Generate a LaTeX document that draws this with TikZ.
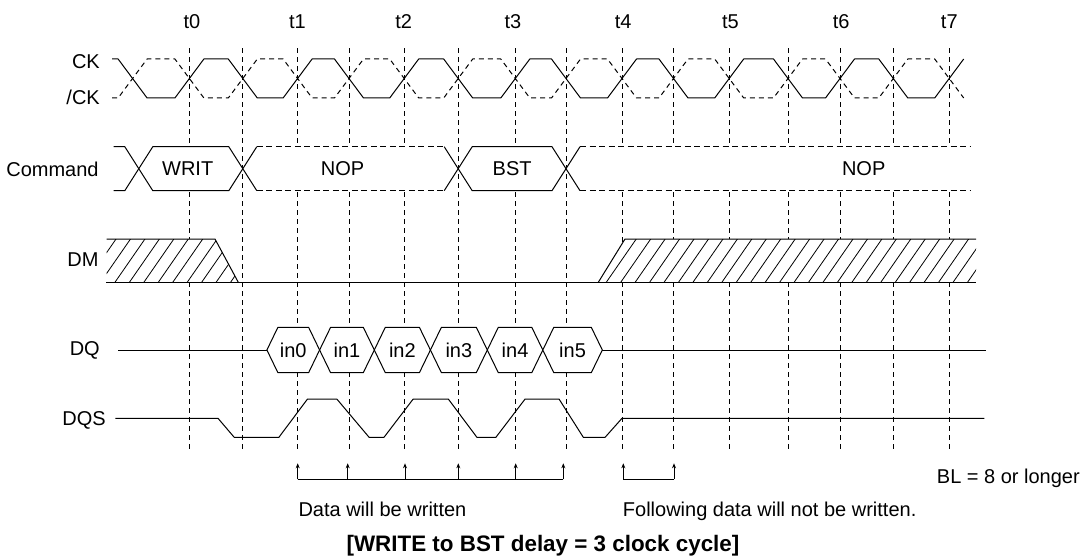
\documentclass[tikz,border=0pt]{standalone}
\usepackage{fontspec}
\setmainfont{Liberation Sans}
\usetikzlibrary{arrows.meta}

\newcommand{\gridTopY}{48.3}
\newcommand{\gridBotY}{449}
\newcommand{\ckHighY}{59}
\newcommand{\ckLowY}{98}
\newcommand{\ckHalfW}{14.5}
\newcommand{\cmdTopY}{146.7}
\newcommand{\cmdBotY}{190.7}
\newcommand{\cmdMidY}{168.7}
\newcommand{\cmdHalfW}{14}
\newcommand{\dmTopY}{239}
\newcommand{\dmBotY}{282.3}
\newcommand{\dqTopY}{327.3}
\newcommand{\dqBotY}{372.7}
\newcommand{\dqMidY}{350}
\newcommand{\dqHalfW}{11}
\newcommand{\dqsHighY}{399}
\newcommand{\dqsLowY}{437.3}
\newcommand{\dqsMidY}{418.3}
\newcommand{\arrowTipY}{463.3}
\newcommand{\arrowBaseY}{479.3}

\tikzset{
  wave/.style={line width=1pt, black, line join=round},
  gridline/.style={line width=0.8pt, dash pattern=on 5pt off 4pt},
  busdash/.style={line width=1pt, dash pattern=on 6pt off 3.5pt},
  hatchline/.style={line width=0.8pt},
  marker/.style={line width=0.8pt, -{Stealth[length=5pt,width=4pt]}},
  siglabel/.style={anchor=base east},
}

\begin{document}
\begin{tikzpicture}[x=1pt,y=-1pt,every node/.style={inner sep=0pt},font=\fontsize{20}{24}\selectfont]
\useasboundingbox (0,0) rectangle (1083,556);

% Time labels
\foreach \tx/\tn in {192/0,297.5/1,403.6/2,513/3,623.1/4,730.4/5,841.2/6,949.3/7}
  \node[anchor=base] (t\tn) at (\tx,28.3) {t\tn};

% Dashed grid at every crossing
\foreach \gx in {189.4,242.8,297.6,349,404.2,458.2,515.3,566,622,673.5,729.2,788,840,893.3,949.2}
  \draw[gridline] (\gx,\gridTopY) -- (\gx,\gridBotY);

% Signal names
\node[siglabel] (ck) at (100,68.3) {CK};
\node[siglabel] (ckbar) at (100,105) {/CK};
\node[siglabel] (cmd) at (98.8,176.7) {Command};
\node[siglabel] (dm) at (98.8,266.7) {DM};
\node[siglabel] (dq) at (100,355) {DQ};
\node[siglabel] (dqs) at (106,425.5) {DQS};

% CK and /CK
\draw[wave] (112,\ckHighY)
  \foreach \fa/\ri in {132.6/189.4,242.8/297.6,349/404.2,458.2/515.3,566/622,673.5/729.2,788/840,893.3/949.2}
  { -- ({\fa-\ckHalfW},\ckHighY) -- ({\fa+\ckHalfW},\ckLowY) -- ({\ri-\ckHalfW},\ckLowY) -- ({\ri+\ckHalfW},\ckHighY) };
\draw[wave, gridline, line width=1pt] (112,\ckLowY)
  \foreach \fa/\ri in {132.6/189.4,242.8/297.6,349/404.2,458.2/515.3,566/622,673.5/729.2,788/840,893.3/949.2}
  { -- ({\fa-\ckHalfW},\ckLowY) -- ({\fa+\ckHalfW},\ckHighY) -- ({\ri-\ckHalfW},\ckHighY) -- ({\ri+\ckHalfW},\ckLowY) };

% Command bus
\draw[wave] (113.6,\cmdTopY) -- (124.8,\cmdTopY) -- (138.8,\cmdMidY) -- (124.8,\cmdBotY) -- (113.6,\cmdBotY);
\draw[wave, fill=white] (138.8,\cmdMidY) -- (152.8,\cmdTopY) -- (228.8,\cmdTopY) -- (242.8,\cmdMidY)
  -- (228.8,\cmdBotY) -- (152.8,\cmdBotY) -- cycle;
\fill[white] (242.8,\cmdMidY) -- (256.8,\cmdTopY) -- (444.2,\cmdTopY) -- (458.2,\cmdMidY)
  -- (444.2,\cmdBotY) -- (256.8,\cmdBotY) -- cycle;
\draw[wave] (256.8,\cmdTopY) -- (242.8,\cmdMidY) -- (256.8,\cmdBotY);
\draw[wave] (444.2,\cmdTopY) -- (458.2,\cmdMidY) -- (444.2,\cmdBotY);
\draw[busdash] (256.8,\cmdTopY) -- (444.2,\cmdTopY);
\draw[busdash] (256.8,\cmdBotY) -- (444.2,\cmdBotY);
\draw[wave, fill=white] (458.2,\cmdMidY) -- (472.2,\cmdTopY) -- (552,\cmdTopY) -- (566,\cmdMidY)
  -- (552,\cmdBotY) -- (472.2,\cmdBotY) -- cycle;
\fill[white] (566,\cmdMidY) -- (580,\cmdTopY) -- (971,\cmdTopY) -- (971,\cmdBotY) -- (580,\cmdBotY) -- cycle;
\draw[wave] (580,\cmdTopY) -- (566,\cmdMidY) -- (580,\cmdBotY);
\draw[busdash] (580,\cmdTopY) -- (971,\cmdTopY);
\draw[busdash] (580,\cmdBotY) -- (971,\cmdBotY);
\node (writ) at (187.7,\cmdMidY) {WRIT};
\node (nop1) at (342.6,\cmdMidY) {NOP};
\node (bst) at (512.1,\cmdMidY) {BST};
\node (nop2) at (863.7,\cmdMidY) {NOP};

% DM
\fill[white] (106.7,\dmTopY) -- (215,\dmTopY) -- (238.3,\dmBotY) -- (106.7,\dmBotY) -- cycle;
\fill[white] (598.3,\dmBotY) -- (625,\dmTopY) -- (976,\dmTopY) -- (976,\dmBotY) -- cycle;
\begin{scope}
  \clip (106.7,\dmTopY) -- (215,\dmTopY) -- (238.3,\dmBotY) -- (106.7,\dmBotY) -- cycle
        (598.3,\dmBotY) -- (625,\dmTopY) -- (976,\dmTopY) -- (976,\dmBotY) -- cycle;
  \foreach \hx in {71.6,86.05,...,1000}
    \draw[hatchline] (\hx,\dmBotY) -- ++(30,-43.3);
\end{scope}
\draw[wave] (106.7,\dmTopY) -- (215,\dmTopY) -- (238.3,\dmBotY);
\draw[wave] (598.3,\dmBotY) -- (625,\dmTopY) -- (976,\dmTopY);
\draw[wave] (106,\dmBotY) -- (976,\dmBotY);

% DQ
\draw[wave] (118,\dqMidY) -- (266.9,\dqMidY);
\foreach \xa/\xb/\k in {266.9/319.6/0,319.6/374.3/1,374.3/430.4/2,430.4/487.3/3,487.3/542.8/4,542.8/602.3/5} {
  \draw[wave, fill=white] (\xa,\dqMidY) -- ({\xa+\dqHalfW},\dqTopY) -- ({\xb-\dqHalfW},\dqTopY) -- (\xb,\dqMidY)
    -- ({\xb-\dqHalfW},\dqBotY) -- ({\xa+\dqHalfW},\dqBotY) -- cycle;
  \node (in\k) at ({(\xa+\xb)/2},\dqMidY) {in\k};
}
\draw[wave] (602.3,\dqMidY) -- (986,\dqMidY);

% DQS
\draw[wave] (115.4,\dqsMidY) -- (218,\dqsMidY) -- (234.2,\dqsLowY) -- (278.9,\dqsLowY)
  -- (307.5,\dqsHighY) -- (336.8,\dqsHighY) -- (369.1,\dqsLowY) -- (384,\dqsLowY)
  -- (413.2,\dqsHighY) -- (448.3,\dqsHighY) -- (476.9,\dqsLowY) -- (495.9,\dqsLowY)
  -- (525.1,\dqsHighY) -- (559,\dqsHighY) -- (583.3,\dqsLowY) -- (605.1,\dqsLowY)
  -- (622,\dqsMidY) -- (984.3,\dqsMidY);

% Write / no-write markers
\draw[line width=0.8pt] (297.7,\arrowBaseY) -- (563.3,\arrowBaseY);
\foreach \ax in {297.7,347.7,405,458.3,515.7,563.3}
  \draw[marker] (\ax,\arrowBaseY) -- (\ax,\arrowTipY);
\draw[line width=0.8pt] (623.3,\arrowBaseY) -- (674,\arrowBaseY);
\foreach \ax in {623.3,674}
  \draw[marker] (\ax,\arrowBaseY) -- (\ax,\arrowTipY);

% Notes
\node[anchor=base west] (bl) at (936.7,483.3) {BL = 8 or longer};
\node[anchor=base west] (written) at (298.3,516.5) {Data will be written};
\node[anchor=base west] (notwritten) at (622.7,516.5) {Following data will not be written.};
\node[anchor=base, font=\bfseries\fontsize{22.4}{26}\selectfont] (title) at (543,551) {[WRITE to BST delay = 3 clock cycle]};
\end{tikzpicture}
\end{document}
